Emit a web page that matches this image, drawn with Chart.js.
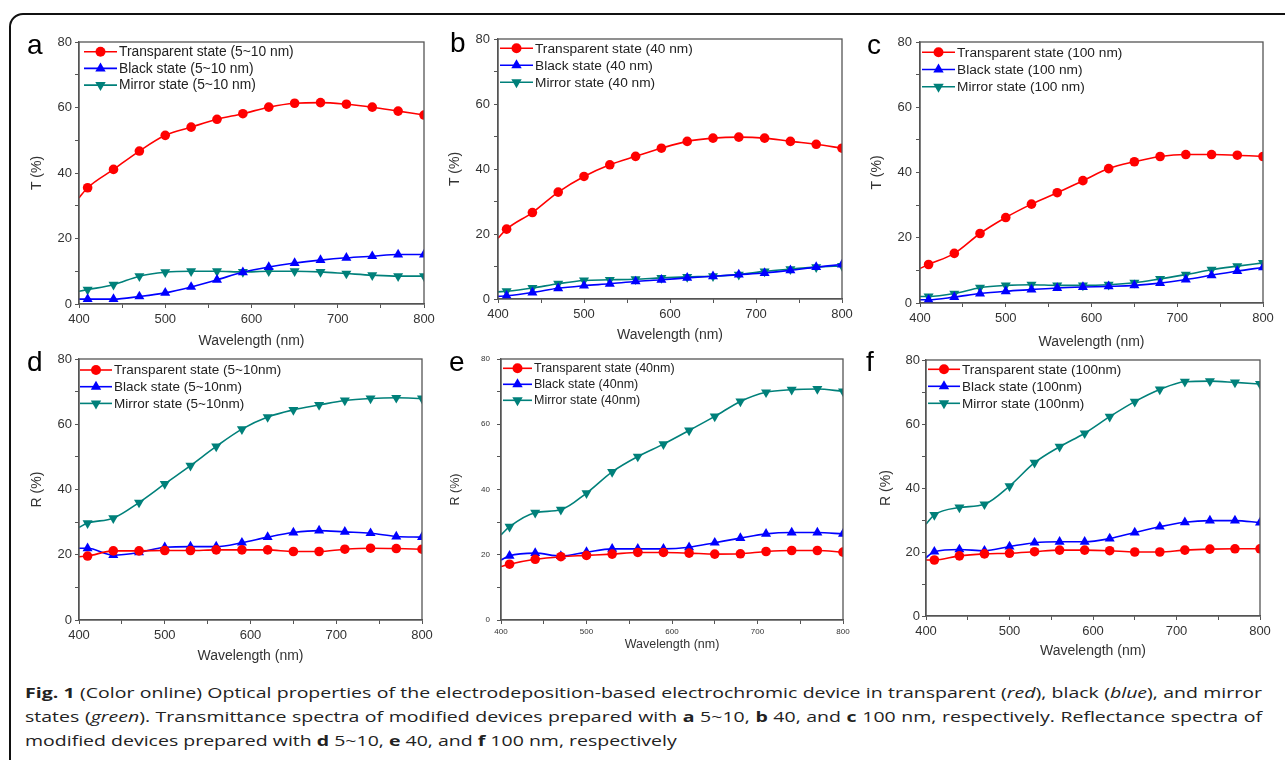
<!DOCTYPE html>
<html>
<head>
<meta charset="utf-8">
<script src="https://cdn.jsdelivr.net/npm/chart.js@4.4.1/dist/chart.umd.min.js"></script>
<style>
  html, body { margin:0; padding:0; background:#fff; width:1285px; height:760px; overflow:hidden; position:relative; }
  .frame { position:absolute; left:9px; top:13px; width:1400px; height:900px; border:2px solid #111; border-radius:14px; box-sizing:border-box; }
  canvas { position:absolute; }
  .letter { position:absolute; font-family:"Liberation Sans", Arial, sans-serif; font-size:28px; line-height:28px; color:#000; }
  .caption { position:absolute; left:25px; top:680px; width:951.5px; transform:scaleX(1.3); transform-origin:0 0;
             font-family:"Open Sans", "Noto Sans", sans-serif; font-size:15px; line-height:24px; color:#222; }
  .caption .j { white-space:nowrap; text-align:justify; text-align-last:justify; }
  .caption .l { white-space:nowrap; text-align:left; }
</style>
</head>
<body>
<div class="frame"></div>

<script>
// ---------------- DATA ----------------
const wavelengths = [400, 410, 440, 470, 500, 530, 560, 590, 620, 650, 680, 710, 740, 770, 800];
const xTickLabels = [400, 500, 600, 700, 800];
const yTickLabels = [0, 20, 40, 60, 80];

// (a) Transmittance, 5~10 nm
const aTransparent = [32.4, 35.5, 41.1, 46.7, 51.5, 54.0, 56.4, 58.1, 60.1, 61.3, 61.5, 61.0, 60.1, 58.9, 57.7];
const aBlack       = [1.5, 1.5, 1.5, 2.3, 3.4, 5.2, 7.4, 9.7, 11.3, 12.5, 13.4, 14.1, 14.6, 15.1, 15.1];
const aMirror      = [3.9, 4.4, 5.9, 8.5, 9.7, 10.0, 10.0, 9.8, 10.0, 10.0, 9.8, 9.3, 8.8, 8.5, 8.5];
// (b) Transmittance, 40 nm
const bTransparent = [18.7, 21.5, 26.6, 32.9, 37.7, 41.3, 43.9, 46.4, 48.5, 49.5, 49.8, 49.5, 48.5, 47.6, 46.4];
const bBlack       = [0.8, 1.0, 2.0, 3.3, 4.1, 4.7, 5.4, 5.9, 6.5, 7.0, 7.5, 8.0, 8.8, 9.8, 10.6];
const bMirror      = [2.2, 2.4, 3.4, 4.7, 5.7, 5.9, 6.1, 6.5, 6.8, 7.0, 7.5, 8.5, 9.2, 9.8, 10.2];
// (c) Transmittance, 100 nm
const cTransparent = [10.6, 11.8, 15.2, 21.3, 26.2, 30.3, 33.8, 37.5, 41.2, 43.3, 44.9, 45.5, 45.5, 45.3, 44.9];
const cBlack       = [1.0, 1.0, 1.8, 2.9, 3.6, 4.1, 4.6, 4.9, 5.1, 5.4, 6.1, 7.2, 8.5, 9.8, 10.9];
const cMirror      = [2.0, 2.0, 2.9, 4.7, 5.4, 5.6, 5.4, 5.4, 5.6, 6.2, 7.4, 8.7, 10.2, 11.3, 12.3];
// (d) Reflectance, 5~10 nm
const dTransparent = [19.4, 19.6, 21.2, 21.2, 21.3, 21.3, 21.5, 21.5, 21.5, 21.0, 21.0, 21.7, 22.0, 21.9, 21.7];
const dBlack       = [22.0, 22.0, 19.9, 20.7, 22.3, 22.5, 22.5, 23.7, 25.4, 26.8, 27.4, 27.0, 26.6, 25.6, 25.4];
const dMirror      = [28.4, 29.7, 31.2, 36.0, 41.7, 47.3, 53.2, 58.5, 62.2, 64.4, 65.9, 67.3, 67.9, 68.1, 67.9];
// (e) Reflectance, 40 nm
const eTransparent = [16.4, 17.1, 18.6, 19.4, 19.8, 20.2, 20.7, 20.7, 20.5, 20.2, 20.3, 21.0, 21.3, 21.3, 20.8];
const eBlack       = [18.4, 19.7, 20.5, 19.6, 20.8, 21.8, 21.8, 21.8, 22.3, 23.7, 25.1, 26.4, 26.8, 26.8, 26.4];
const eMirror      = [26.1, 28.6, 32.9, 33.8, 38.9, 45.4, 50.1, 53.9, 58.1, 62.4, 67.0, 69.8, 70.6, 70.8, 70.1];
// (f) Reflectance, 100 nm
const fTransparent = [17.5, 17.5, 18.8, 19.4, 19.6, 20.1, 20.6, 20.6, 20.4, 20.0, 20.0, 20.6, 20.9, 21.0, 21.0];
const fBlack       = [18.2, 20.1, 20.8, 20.4, 21.7, 22.9, 23.2, 23.2, 24.2, 26.1, 27.9, 29.3, 29.8, 29.8, 29.2];
const fMirror      = [28.7, 31.6, 33.9, 34.9, 40.6, 47.9, 52.9, 57.1, 62.3, 67.0, 70.8, 73.2, 73.4, 73.0, 72.5];

const aLabels = ['Transparent state (5~10 nm)', 'Black state (5~10 nm)', 'Mirror state (5~10 nm)'];
const bLabels = ['Transparent state (40 nm)', 'Black state (40 nm)', 'Mirror state (40 nm)'];
const cLabels = ['Transparent state (100 nm)', 'Black state (100 nm)', 'Mirror state (100 nm)'];
const dLabels = ['Transparent state (5~10nm)', 'Black state (5~10nm)', 'Mirror state (5~10nm)'];
const eLabels = ['Transparent state (40nm)', 'Black state (40nm)', 'Mirror state (40nm)'];
const fLabels = ['Transparent state (100nm)', 'Black state (100nm)', 'Mirror state (100nm)'];

const panelLetters = ['a', 'b', 'c', 'd', 'e', 'f'];
const xTitle = 'Wavelength (nm)';
</script>

<canvas id="ca"></canvas><canvas id="cb"></canvas><canvas id="cc"></canvas>
<canvas id="cd"></canvas><canvas id="ce"></canvas><canvas id="cf"></canvas>

<div class="caption">
  <div class="j"><b>Fig. 1</b> (Color online) Optical properties of the electrodeposition-based electrochromic device in transparent (<i>red</i>), black (<i>blue</i>), and mirror</div>
  <div class="j">states (<i>green</i>). Transmittance spectra of modified devices prepared with <b>a</b> 5~10, <b>b</b> 40, and <b>c</b> 100 nm, respectively. Reflectance spectra of</div>
  <div class="l">modified devices prepared with <b>d</b> 5~10, <b>e</b> 40, and <b>f</b> 100 nm, respectively</div>
</div>

<script>
const FONT = '"Liberation Sans", Arial, sans-serif';
Chart.defaults.font.family = FONT;
const RED = '#ff0000', BLUE = '#0000ff', TEAL = '#00807a';
const AXIS = '#555';

function drawMarker(ctx, style, x, y, r) {
  ctx.beginPath();
  if (style === 'circle') {
    ctx.arc(x, y, r, 0, Math.PI * 2);
  } else {
    let a = style === 'up' ? 0 : Math.PI;
    for (let k = 0; k < 3; k++) {
      const px = x + Math.sin(a) * r, py = y - Math.cos(a) * r;
      if (k === 0) ctx.moveTo(px, py); else ctx.lineTo(px, py);
      a += 2 * Math.PI / 3;
    }
    ctx.closePath();
  }
  ctx.fill();
}

const decorPlugin = {
  id: 'decor',
  afterDraw(chart, args, opts) {
    const ctx = chart.ctx, ca = chart.chartArea;
    ctx.save();
    ctx.strokeStyle = AXIS;
    ctx.lineWidth = 1.3;
    ctx.strokeRect(ca.left, ca.top, ca.right - ca.left, ca.bottom - ca.top);
    const styles = ['circle', 'up', 'down'];
    chart.data.datasets.forEach((ds, i) => {
      const y = ca.top + opts.y0 + i * opts.dy;
      const x0 = ca.left + opts.lx, x1 = x0 + opts.len;
      ctx.strokeStyle = ds.borderColor; ctx.lineWidth = 1.6;
      ctx.beginPath(); ctx.moveTo(x0, y); ctx.lineTo(x1, y); ctx.stroke();
      ctx.fillStyle = ds.borderColor;
      drawMarker(ctx, styles[i], (x0 + x1) / 2, y, styles[i] === 'circle' ? 5 : 6);
      ctx.fillStyle = '#222';
      ctx.font = opts.fontSize + 'px ' + FONT;
      ctx.textBaseline = 'middle';
      ctx.textAlign = 'left';
      ctx.fillText(ds.label, x1 + 2, y + 0.5);
    });
    ctx.restore();
  }
};

function makeDatasets(vals, labels) {
  const cols = [RED, BLUE, TEAL];
  const styles = ['circle', 'triangle', 'triangle'];
  const rot = [0, 0, 180];
  const rad = [4.8, 5.8, 5.8];
  return vals.map((v, i) => ({
    label: labels[i],
    data: wavelengths.map((w, j) => ({ x: w, y: v[j] })),
    borderColor: cols[i],
    backgroundColor: cols[i],
    borderWidth: 1.6,
    pointStyle: styles[i],
    pointRotation: rot[i],
    pointRadius: wavelengths.map((w, j) => j === 0 ? 0 : rad[i]),
    pointBorderWidth: 0,
    cubicInterpolationMode: 'monotone',
    clip: 0
  }));
}

const PADL = 75, PADT = 15, PADR = 25, PADB = 55;

function makePanel(id, p, vals, labels, yTitle, letter) {
  const cv = document.getElementById(id);
  const W = (p.R - p.L) + PADL + PADR, H = (p.B - p.T) + PADT + PADB;
  cv.width = W; cv.height = H;
  cv.style.left = (p.L - PADL) + 'px';
  cv.style.top = (p.T - PADT) + 'px';
  cv.style.width = W + 'px'; cv.style.height = H + 'px';

  const tf = p.tickFont, af = p.titleFont;
  const tLH = af * 1.2;
  new Chart(cv, {
    type: 'line',
    data: { datasets: makeDatasets(vals, labels) },
    options: {
      responsive: false, animation: false, devicePixelRatio: 1,
      layout: { padding: { left: 0, top: PADT, right: PADR, bottom: 0 } },
      plugins: {
        legend: { display: false }, tooltip: { enabled: false },
        decor: p.legend
      },
      scales: {
        x: {
          type: 'linear', min: 400, max: 800,
          ticks: {
            stepSize: 50, autoSkip: false, maxRotation: 0, color: '#333',
            font: { size: tf }, padding: p.xTickPad,
            callback: v => xTickLabels.includes(v) ? String(v) : ''
          },
          grid: { drawOnChartArea: false, tickLength: 4, color: AXIS, tickColor: AXIS },
          border: { color: AXIS, width: 1.3 },
          title: { display: true, text: xTitle, color: '#333', font: { size: af },
                   padding: { top: 0, bottom: (p.B + PADB) - p.xTitleY - tLH / 2 } },
          afterFit: s => { s.height = PADB; }
        },
        y: {
          min: 0, max: 80,
          ticks: {
            stepSize: 10, autoSkip: false, color: '#333', font: { size: tf }, padding: p.yTickPad,
            callback: v => yTickLabels.includes(v) ? String(v) : ''
          },
          grid: { drawOnChartArea: false, tickLength: 4, color: AXIS, tickColor: AXIS },
          border: { color: AXIS, width: 1.3 },
          title: { display: true, text: yTitle, color: '#333', font: { size: af },
                   padding: { top: p.yTitleX - (p.L - PADL) - tLH / 2, bottom: 0 } },
          afterFit: s => { s.width = PADL; }
        }
      }
    },
    plugins: [decorPlugin]
  });

  const d = document.createElement('div');
  d.className = 'letter';
  d.textContent = letter;
  d.style.left = p.letterX + 'px';
  d.style.top = (p.letterBase - 23.7) + 'px';
  document.body.appendChild(d);
}

const std = { tickFont: 13, titleFont: 14, xTickPad: 4, yTickPad: 3 };
makePanel('ca', Object.assign({}, std, { L: 79, T: 42, R: 424, B: 304, yTitleX: 37, xTitleY: 341,
  letterX: 27, letterBase: 55, legend: { lx: 5, len: 33, y0: 9.7, dy: 16.7, fontSize: 13.8 } }),
  [aTransparent, aBlack, aMirror], aLabels, 'T (%)', panelLetters[0]);
makePanel('cb', Object.assign({}, std, { L: 498, T: 39, R: 842, B: 299, yTitleX: 455, xTitleY: 335,
  letterX: 450, letterBase: 53, yTickPad: 4, legend: { lx: 2, len: 33, y0: 9.3, dy: 17, fontSize: 13.7 } }),
  [bTransparent, bBlack, bMirror], bLabels, 'T (%)', panelLetters[1]);
makePanel('cc', Object.assign({}, std, { L: 920, T: 42, R: 1263, B: 303, yTitleX: 877, xTitleY: 342,
  letterX: 867, letterBase: 55, yTickPad: 4, legend: { lx: 2, len: 33, y0: 10.3, dy: 17.2, fontSize: 13.7 } }),
  [cTransparent, cBlack, cMirror], cLabels, 'T (%)', panelLetters[2]);
makePanel('cd', Object.assign({}, std, { L: 79, T: 359, R: 422, B: 620, yTitleX: 37, xTitleY: 656,
  letterX: 27, letterBase: 372, legend: { lx: 1, len: 32, y0: 11, dy: 16.7, fontSize: 13.5 } }),
  [dTransparent, dBlack, dMirror], dLabels, 'R (%)', panelLetters[3]);
makePanel('ce', Object.assign({}, std, { L: 501, T: 359, R: 843, B: 620, yTitleX: 456, xTitleY: 645,
  tickFont: 8, titleFont: 12.5, xTickPad: 3, yTickPad: 7,
  letterX: 449, letterBase: 372, legend: { lx: 2, len: 29, y0: 9.3, dy: 16, fontSize: 12.5 } }),
  [eTransparent, eBlack, eMirror], eLabels, 'R (%)', panelLetters[4]);
makePanel('cf', Object.assign({}, std, { L: 926, T: 360, R: 1260, B: 616, yTitleX: 886, xTitleY: 651,
  letterX: 866, letterBase: 372, yTickPad: 2, legend: { lx: 2, len: 32, y0: 9.3, dy: 17, fontSize: 13.5 } }),
  [fTransparent, fBlack, fMirror], fLabels, 'R (%)', panelLetters[5]);
</script>
</body>
</html>
